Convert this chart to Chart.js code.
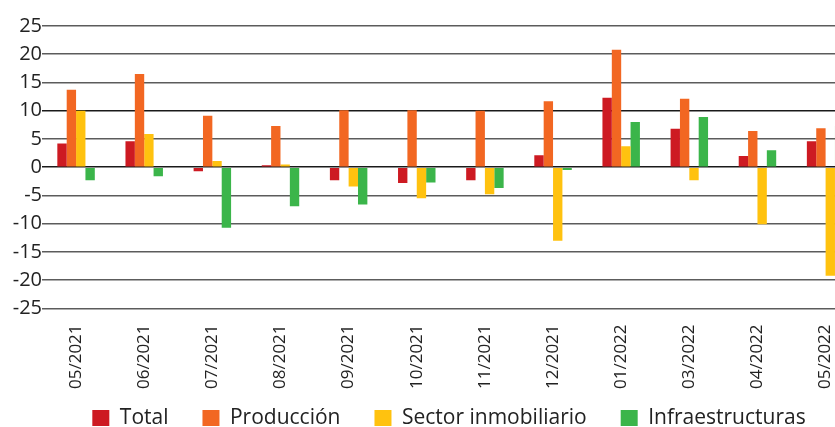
<!DOCTYPE html>
<html>
<head>
<meta charset="utf-8">
<script src="https://cdn.jsdelivr.net/npm/chart.js@4/dist/chart.umd.min.js"></script>
<style>
  html, body { margin: 0; padding: 0; background: #fff; overflow: hidden; }
  #wrap { width: 862px; height: 427px; }
</style>
</head>
<body>
<div id="wrap"><canvas id="chart"></canvas></div>
<script>
const months = ['05/2021', '06/2021', '07/2021', '08/2021', '09/2021', '10/2021',
                '11/2021', '12/2021', '01/2022', '03/2022', '04/2022', '05/2022'];

const total       = [4.2, 4.6, -0.7, 0.35, -2.3, -2.8, -2.3, 2.1, 12.3, 6.8, 2.0, 4.6];
const produccion  = [13.7, 16.5, 9.1, 7.3, 10.1, 10.1, 10.0, 11.7, 20.8, 12.1, 6.4, 6.9];
const inmobiliario = [10.0, 5.9, 1.1, 0.5, -3.4, -5.5, -4.8, -13.0, 3.7, -2.3, -10.1, -19.2];
const infraestructuras = [-2.3, -1.6, -10.7, -6.9, -6.6, -2.7, -3.7, -0.5, 8.0, 8.9, 3.0, 7.3];

const yTicks = [-25, -20, -15, -10, -5, 0, 5, 10, 15, 20, 25];

const fontFamily = '"Open Sans", "Noto Sans", sans-serif';

function series(label, data, color) {
    return {
        label: label,
        data: data,
        backgroundColor: color,
        borderWidth: 0,
        barPercentage: 1.0,
        categoryPercentage: 0.55
    };
}

// la leyenda ocupa menos alto y se recoloca como en el original
const legendPlace = {
    id: 'legendPlace',
    beforeLayout(chart) {
        const lg = chart.legend;
        if (lg && !lg._patched) {
            const fit = lg.fit.bind(lg);
            lg.fit = function () { fit(); this.height = 22; };
            lg._patched = true;
        }
    },
    afterLayout(chart) {
        const lg = chart.legend;
        lg.left += 18; lg.right += 18;
        lg.top = 373.5;
        lg.bottom = chart.height;
    }
};

new Chart(document.getElementById('chart'), {
    type: 'bar',
    data: {
        labels: months,
        datasets: [
            series('Total', total, '#cd1a22'),
            series('Producción', produccion, '#f26722'),
            series('Sector inmobiliario', inmobiliario, '#ffc20f'),
            series('Infraestructuras', infraestructuras, '#3bb54a')
        ]
    },
    plugins: [legendPlace],
    options: {
        responsive: true,
        maintainAspectRatio: false,
        animation: false,
        layout: { padding: { top: 26, right: 0, left: 0, bottom: 0 } },
        scales: {
            x: {
                grid: { display: false, drawTicks: false },
                border: { display: false },
                ticks: {
                    color: '#222',
                    font: { family: fontFamily, size: 17 },
                    minRotation: 90,
                    maxRotation: 90,
                    padding: 16
                }
            },
            y: {
                min: -25,
                max: 25,
                afterFit: (scale) => { scale.width = 42; },
                afterBuildTicks: (scale) => { scale.ticks = yTicks.map(v => ({ value: v })); },
                grid: {
                    drawTicks: false,
                    lineWidth: 1.6,
                    color: (ctx) => (ctx.tick && (ctx.tick.value === 0 || ctx.tick.value === 10)) ? '#1a1a1a' : '#5c5c5c'
                },
                border: { display: false },
                ticks: {
                    color: '#222',
                    font: { family: fontFamily, size: 20 },
                    padding: 0
                }
            }
        },
        plugins: {
            tooltip: { enabled: false },
            legend: {
                position: 'bottom',
                align: 'center',
                labels: {
                    color: '#222',
                    font: { family: fontFamily, size: 21 },
                    boxWidth: 17,
                    boxHeight: 16,
                    padding: 34
                }
            }
        }
    }
});
</script>
</body>
</html>
